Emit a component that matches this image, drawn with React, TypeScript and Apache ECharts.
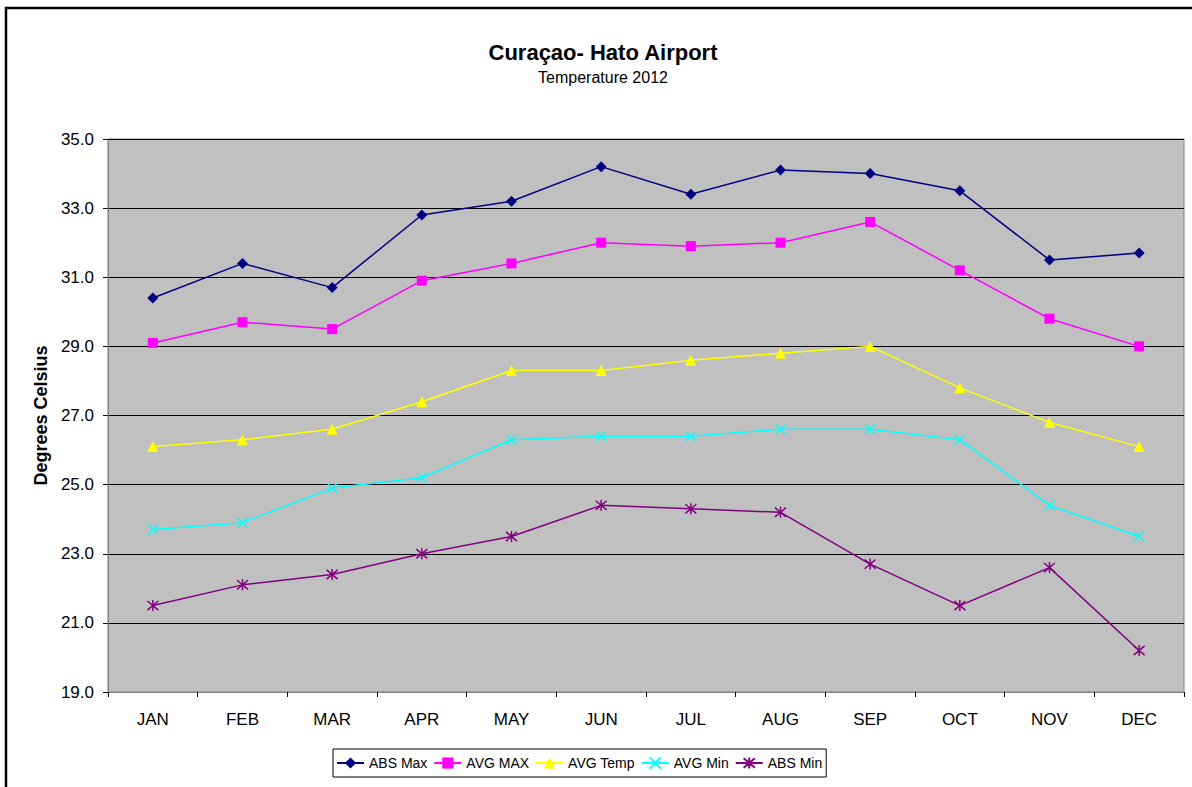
import React, { useEffect, useRef } from "react";
import * as echarts from "echarts";

const months = ["JAN", "FEB", "MAR", "APR", "MAY", "JUN", "JUL", "AUG", "SEP", "OCT", "NOV", "DEC"];
const absMax = [30.4, 31.4, 30.7, 32.8, 33.2, 34.2, 33.4, 34.1, 34.0, 33.5, 31.5, 31.7];
const avgMax = [29.1, 29.7, 29.5, 30.9, 31.4, 32.0, 31.9, 32.0, 32.6, 31.2, 29.8, 29.0];
const avgTemp = [26.1, 26.3, 26.6, 27.4, 28.3, 28.3, 28.6, 28.8, 29.0, 27.8, 26.8, 26.1];
const avgMin = [23.7, 23.9, 24.9, 25.2, 26.3, 26.4, 26.4, 26.6, 26.6, 26.3, 24.4, 23.5];
const absMin = [21.5, 22.1, 22.4, 23.0, 23.5, 24.4, 24.3, 24.2, 22.7, 21.5, 22.6, 20.2];

const FONT = "'Liberation Sans', Arial, sans-serif";
const X_PATH = "path://M0 0L10 10M10 0L0 10";
const STAR_PATH = "path://M0 0L10 10M10 0L0 10M5 -1L5 11";

export default function App() {
  const ref = useRef<HTMLDivElement>(null);
  useEffect(() => {
    if (!ref.current) return;
    const chart = echarts.init(ref.current, null, { renderer: "svg" });
    const mk = (name: string, data: number[], color: string, symbol: string, size: number, stroked = false) => ({
      name,
      type: "line",
      data,
      symbol,
      symbolSize: size,
      lineStyle: { color, width: 1.5 },
      itemStyle: stroked
        ? { color: "rgba(0,0,0,0)", borderColor: color, borderWidth: 1.5 }
        : { color, borderWidth: 0 },
      emphasis: { disabled: true },
    });
    chart.setOption({
      animation: false,
      textStyle: { fontFamily: FONT },
      title: {
        text: "Curaçao- Hato Airport",
        subtext: "Temperature 2012",
        left: 603,
        textAlign: "center",
        top: 41,
        itemGap: 6,
        padding: 0,
        textStyle: { fontFamily: FONT, fontSize: 22, fontWeight: "bold", color: "#000" },
        subtextStyle: { fontFamily: FONT, fontSize: 16, color: "#000" },
      },
      graphic: [
        {
          type: "rect",
          shape: { x: 6, y: 8, width: 1250, height: 850 },
          style: { fill: "none", stroke: "#000", lineWidth: 2.5 },
          silent: true,
        },
      ],
      legend: {
        left: 333,
        top: 749,
        borderColor: "#000",
        borderWidth: 1,
        padding: [7, 4, 7, 3],
        itemGap: 6,
        itemWidth: 27,
        itemHeight: 14,
        textStyle: { fontFamily: FONT, fontSize: 14, color: "#000" },
        data: ["ABS Max", "AVG MAX", "AVG Temp", "AVG Min", "ABS Min"],
      },
      grid: {
        left: 108,
        right: 8,
        top: 139,
        bottom: 95,
        show: true,
        backgroundColor: "#c0c0c0",
        borderColor: "#808080",
        borderWidth: 1,
      },
      xAxis: {
        type: "category",
        data: months,
        boundaryGap: true,
        axisLine: { lineStyle: { color: "#808080", width: 1 } },
        axisTick: { show: true, length: 5, lineStyle: { color: "#000" } },
        axisLabel: { fontFamily: FONT, fontSize: 17, color: "#000", margin: 19 },
        splitLine: { show: false },
      },
      yAxis: {
        type: "value",
        min: 19,
        max: 35,
        interval: 2,
        name: "Degrees Celsius",
        nameLocation: "middle",
        nameGap: 58,
        nameTextStyle: { fontFamily: FONT, fontSize: 18, fontWeight: "bold", color: "#000" },
        axisLine: { show: true, lineStyle: { color: "#808080", width: 1 } },
        axisTick: { show: true, length: 5, lineStyle: { color: "#000" } },
        axisLabel: {
          fontFamily: FONT,
          fontSize: 17,
          color: "#000",
          margin: 14,
          formatter: (v: number) => v.toFixed(1),
        },
        splitLine: { show: true, lineStyle: { color: "#000", width: 1 } },
      },
      series: [
        mk("ABS Max", absMax, "#000080", "diamond", 11),
        mk("AVG MAX", avgMax, "#ff00ff", "rect", 10),
        mk("AVG Temp", avgTemp, "#ffff00", "triangle", 11),
        mk("AVG Min", avgMin, "#00ffff", X_PATH, 10, true),
        mk("ABS Min", absMin, "#800080", STAR_PATH, 11, true),
      ],
    });
    return () => chart.dispose();
  }, []);
  return (
    <div
      ref={ref}
      style={{ position: "absolute", left: 0, top: 0, width: 1192, height: 787 }}
    />
  );
}
